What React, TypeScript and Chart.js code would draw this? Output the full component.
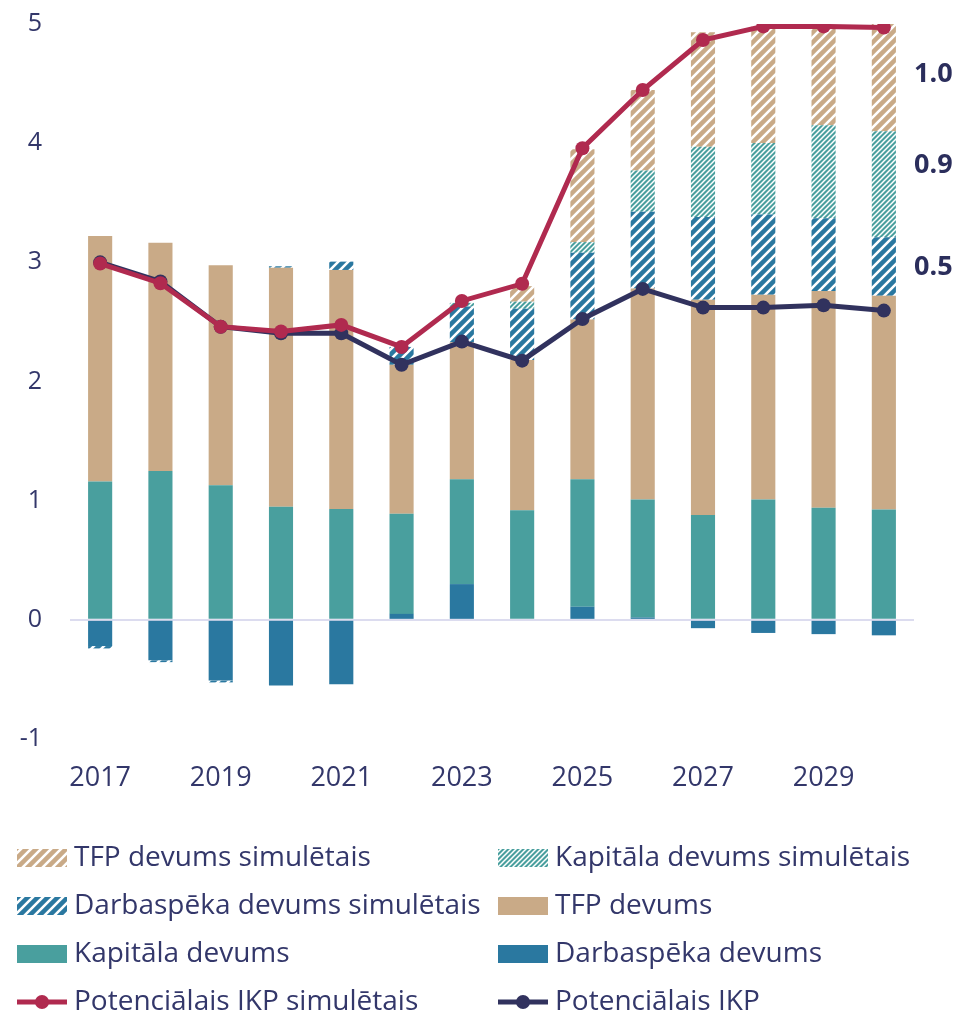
import { useEffect, useRef } from 'react';
import { Chart, registerables } from 'chart.js';

Chart.register(...registerables);

const years = ['2017', '2018', '2019', '2020', '2021', '2022', '2023', '2024', '2025', '2026', '2027', '2028', '2029', '2030'];

const labour = [-0.22, -0.34, -0.51, -0.55, -0.54, 0.05, 0.30, 0.0, 0.11, 0.02, -0.07, -0.11, -0.12, -0.13];
const capital = [1.16, 1.25, 1.13, 0.95, 0.93, 0.84, 0.88, 0.92, 1.07, 0.99, 0.88, 1.01, 0.94, 0.925];
const tfp = [2.06, 1.915, 1.845, 2.005, 2.006, 1.25, 1.15, 1.26, 1.34, 1.77, 1.805, 1.717, 1.82, 1.795];
const labourSim = [-0.02, -0.015, -0.015, 0.012, 0.07, 0.15, 0.30, 0.43, 0.56, 0.645, 0.695, 0.675, 0.61, 0.49];
const capitalSim = [0, 0, 0, 0, 0, 0, 0.03, 0.06, 0.09, 0.345, 0.59, 0.60, 0.78, 0.89];
const tfpSim = [0, 0, 0, 0, 0, 0, 0, 0.13, 0.78, 0.676, 0.96, 0.976, 0.81, 0.91];

const gdpSim = [2.99, 2.825, 2.46, 2.42, 2.475, 2.29, 2.676, 2.82, 3.957, 4.446, 4.866, 4.98, 4.98, 4.97];
const gdp = [3.0, 2.84, 2.46, 2.405, 2.405, 2.14, 2.335, 2.175, 2.525, 2.777, 2.62, 2.62, 2.64, 2.595];

const rightValues = [4.58, 3.81, 2.955];
const rightLabels = ['1.0', '0.9', '0.5'];

const yTicks = [-1, 0, 1, 2, 3, 4, 5];

const legendOrder = [
  'TFP devums simulētais',
  'Kapitāla devums simulētais',
  'Darbaspēka devums simulētais',
  'TFP devums',
  'Kapitāla devums',
  'Darbaspēka devums',
  'Potenciālais IKP simulētais',
  'Potenciālais IKP',
];

const FONT = "'Open Sans', sans-serif";
const TEXT = '#33376a';
const TAN = '#c9aa87';
const TEAL = '#499f9e';
const BLUE = '#2a78a0';
const RED = '#b02a4f';
const NAVY = '#31325e';

function makeHatch(color: string, size: number, gap: number): CanvasPattern | string {
  const c = document.createElement('canvas');
  c.width = size;
  c.height = size;
  const g = c.getContext('2d');
  if (!g) return color;
  g.fillStyle = color;
  g.fillRect(0, 0, size, size);
  g.strokeStyle = '#ffffff';
  g.lineWidth = gap;
  g.beginPath();
  g.moveTo(-size * 0.5, size * 0.5);
  g.lineTo(size * 0.5, -size * 0.5);
  g.moveTo(-size * 0.5, size * 1.5);
  g.lineTo(size * 1.5, -size * 0.5);
  g.moveTo(size * 0.5, size * 1.5);
  g.lineTo(size * 1.5, size * 0.5);
  g.stroke();
  return g.createPattern(c, 'repeat') || color;
}

const legendPlugin = {
  id: 'gridLegend',
  afterDraw(chart: any) {
    const { ctx, chartArea } = chart;
    ctx.save();
    legendOrder.forEach((label, i) => {
      const ds = chart.data.datasets.find((d: any) => d.label === label);
      if (!ds) return;
      const col = i % 2;
      const row = Math.floor(i / 2);
      const x0 = col === 0 ? 17 : 498;
      const yc = chartArea.bottom + 119 + row * 48;
      if (ds.type === 'line') {
        ctx.strokeStyle = ds.borderColor;
        ctx.lineWidth = 5;
        ctx.beginPath();
        ctx.moveTo(x0, yc);
        ctx.lineTo(x0 + 50, yc);
        ctx.stroke();
        ctx.fillStyle = ds.borderColor;
        ctx.beginPath();
        ctx.arc(x0 + 25, yc, 7, 0, Math.PI * 2);
        ctx.fill();
      } else {
        ctx.fillStyle = ds.backgroundColor;
        ctx.fillRect(x0, yc - 9, 50, 18);
      }
      ctx.fillStyle = TEXT;
      ctx.font = `28px ${FONT}`;
      ctx.textAlign = 'left';
      ctx.textBaseline = 'middle';
      ctx.fillText(label, x0 + 57, yc);
    });
    ctx.restore();
  },
};

export default function App() {
  const ref = useRef<HTMLCanvasElement | null>(null);

  useEffect(() => {
    document.body.style.margin = '0';
    const canvas = ref.current;
    if (!canvas) return;

    const patTfp = makeHatch(TAN, 10, 2.6);
    const patCap = makeHatch(TEAL, 5, 1.5);
    const patLab = makeHatch(BLUE, 10, 2.6);

    const barCommon = {
      type: 'bar' as const,
      stack: 'bars',
      barPercentage: 0.4,
      categoryPercentage: 1.0,
      borderWidth: 0,
      yAxisID: 'y',
    };

    const chart = new Chart(canvas, {
      type: 'bar',
      data: {
        labels: years,
        datasets: [
          {
            type: 'line',
            label: 'Potenciālais IKP simulētais',
            data: gdpSim,
            borderColor: RED,
            backgroundColor: RED,
            pointBackgroundColor: RED,
            borderWidth: 5,
            pointRadius: 7,
            pointBorderWidth: 0,
            tension: 0,
            order: 0,
            stack: 'l1',
            yAxisID: 'y',
          },
          {
            type: 'line',
            label: 'Potenciālais IKP',
            data: gdp,
            borderColor: NAVY,
            backgroundColor: NAVY,
            pointBackgroundColor: NAVY,
            borderWidth: 5,
            pointRadius: 7,
            pointBorderWidth: 0,
            tension: 0,
            order: 1,
            stack: 'l2',
            yAxisID: 'y',
          },
          { ...barCommon, label: 'Darbaspēka devums', data: labour, backgroundColor: BLUE, order: 2 },
          { ...barCommon, label: 'Kapitāla devums', data: capital, backgroundColor: TEAL, order: 3 },
          { ...barCommon, label: 'TFP devums', data: tfp, backgroundColor: TAN, order: 4 },
          { ...barCommon, label: 'Darbaspēka devums simulētais', data: labourSim, backgroundColor: patLab, order: 5 },
          { ...barCommon, label: 'Kapitāla devums simulētais', data: capitalSim, backgroundColor: patCap, order: 6 },
          { ...barCommon, label: 'TFP devums simulētais', data: tfpSim, backgroundColor: patTfp, order: 7 },
        ] as any,
      },
      options: {
        responsive: false,
        animation: false,
        layout: { padding: { left: 0, right: 0, top: 24, bottom: 224 } },
        plugins: {
          legend: { display: false },
          tooltip: { enabled: false },
        },
        scales: {
          x: {
            stacked: true,
            grid: { display: false, drawTicks: false },
            border: { display: false },
            ticks: {
              autoSkip: false,
              maxRotation: 0,
              padding: 23,
              color: TEXT,
              font: { family: FONT, size: 27 },
              callback: (_v: any, i: number) => (i % 2 === 0 ? years[i] : ''),
            },
            afterFit: (s: any) => {
              s.height = 52;
            },
          },
          y: {
            stacked: true,
            min: -1,
            max: 5,
            z: 1,
            border: { display: false },
            grid: {
              drawTicks: false,
              color: (c: any) => (c.tick && c.tick.value === 0 ? '#dcdcef' : 'rgba(0,0,0,0)'),
              lineWidth: 2,
            },
            afterBuildTicks: (axis: any) => {
              axis.ticks = yTicks.map((v) => ({ value: v }));
            },
            ticks: {
              padding: 28,
              color: TEXT,
              font: { family: FONT, size: 25 },
              callback: (v: any) => String(v),
            },
            afterFit: (s: any) => {
              s.width = 70;
              s.paddingTop = 10;
              s.paddingBottom = 10;
            },
          },
          y2: {
            position: 'right',
            min: -1,
            max: 5,
            border: { display: false },
            grid: { display: false, drawTicks: false },
            afterBuildTicks: (axis: any) => {
              axis.ticks = rightValues.map((v) => ({ value: v }));
            },
            ticks: {
              padding: 0,
              color: '#2b2e5c',
              font: { family: FONT, size: 27, weight: 'bold' },
              callback: (_v: any, i: number) => rightLabels[i],
            },
            afterFit: (s: any) => {
              s.width = 43;
              s.paddingTop = 10;
              s.paddingBottom = 10;
            },
          },
        },
      } as any,
      plugins: [legendPlugin],
    });

    return () => chart.destroy();
  }, []);

  return (
    <div style={{ width: 957, height: 1015 }}>
      <canvas ref={ref} width={957} height={1015} style={{ display: 'block' }} />
    </div>
  );
}
